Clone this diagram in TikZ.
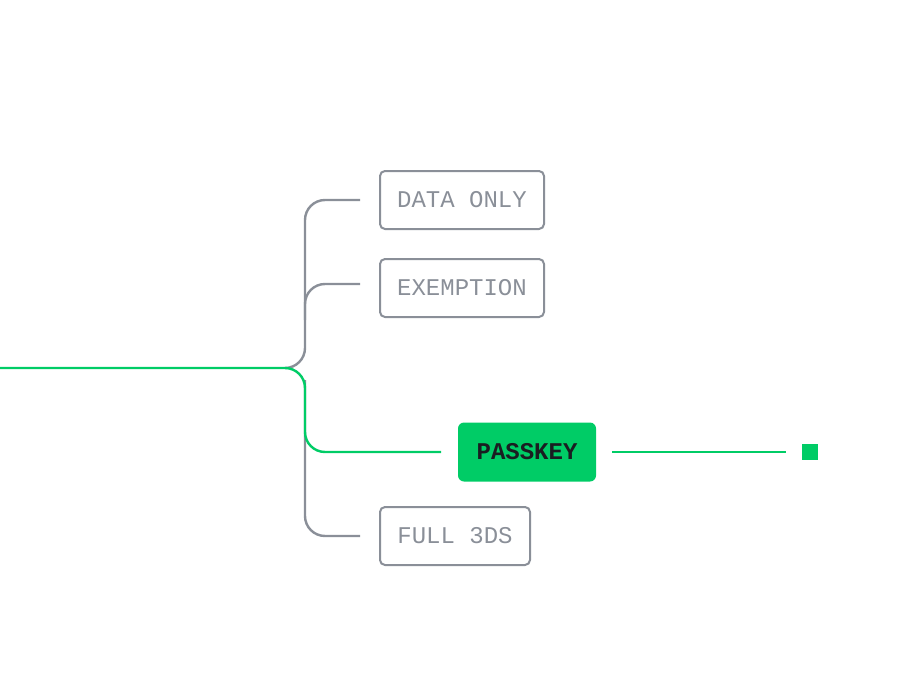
\documentclass[tikz,border=0pt]{standalone}
\usepackage{fontspec}
\setmainfont{Liberation Mono}
\definecolor{keygreen}{HTML}{00CC66}
\definecolor{stemgray}{HTML}{8A8F98}
\definecolor{inkdark}{HTML}{1A1D21}
\tikzset{
  opt/.style={draw=stemgray, line width=1pt, rounded corners=2.5pt, text=stemgray,
    font=\fontsize{12}{14}\selectfont, inner sep=0pt, minimum height=29pt, anchor=west},
  pick/.style={fill=keygreen, rounded corners=3pt, text=inkdark,
    font=\fontsize{12}{14}\selectfont\bfseries, inner sep=0pt, minimum height=29.5pt, minimum width=69pt},
  stem/.style={stemgray, line width=1.2pt, rounded corners=10pt},
  path/.style={keygreen, line width=1.2pt, rounded corners=10pt}
}
\begin{document}
\begin{tikzpicture}[x=0.5pt,y=-0.5pt]
\useasboundingbox (0,0) rectangle (920,690);

\node[opt, minimum width=82pt] (data) at (379,200) {DATA ONLY};
\node[opt, minimum width=82pt] (exempt) at (379,288) {EXEMPTION};
\node[opt, minimum width=75pt] (full) at (379,536) {FULL 3DS};
\node[pick] (passkey) at (527,452) {PASSKEY};
\node[fill=keygreen, minimum size=8pt, inner sep=0pt] (goal) at (810,452) {};

\coordinate (start) at (0,368);
\coordinate (fork) at (305,368);
\coordinate (dataend) at (360,200);
\coordinate (exend) at (360,284);
\coordinate (fullend) at (360,536);
\coordinate (pkin) at (441,452);
\coordinate (pkout) at (612,452);
\coordinate (goalin) at (786,452);

% gray stems
\draw[stem] (start -| 285,0) -- (fork) -- (305,200) -- (dataend);
\draw[stem] (305,320) -- (305,284) -- (exend);
\draw[stem] (305,380) -- (305,536) -- (fullend);
% chosen route
\draw[path] (start) -- (fork) -- (fork |- pkin) -- (pkin);
\draw[keygreen, line width=1.2pt] (pkout) -- (goalin);
\end{tikzpicture}
\end{document}
